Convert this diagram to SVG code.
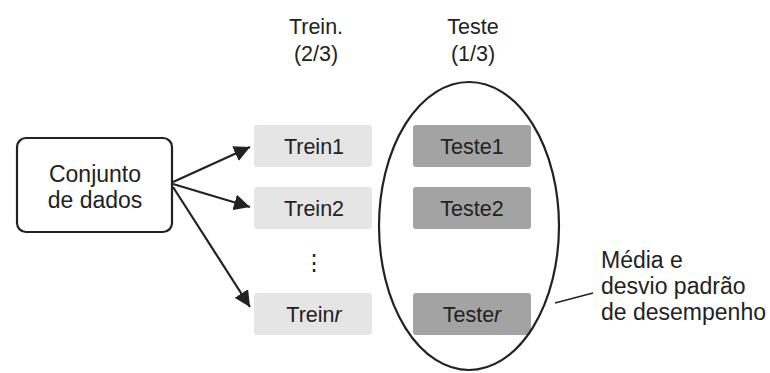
<svg xmlns="http://www.w3.org/2000/svg" width="770" height="373" viewBox="0 0 770 373">
<style>
text{font-family:"Liberation Sans",Arial,sans-serif;font-size:21.5px;fill:#222;}
.c{text-anchor:middle}
.big{font-size:23px}
.tr{fill:#e5e5e5}
.te{fill:#a3a3a3}
.ln{stroke:#222;stroke-width:2.2;fill:none}
</style>
<defs>
<marker id="ah" viewBox="0 0 10 10" refX="10" refY="5" markerWidth="16" markerHeight="16" markerUnits="userSpaceOnUse" orient="auto">
<path d="M0,0 L10,5 L0,10 Z" fill="#222"/>
</marker>
</defs>
<rect width="770" height="373" fill="#fff"/>
<g id="headers">
<text class="c" x="316" y="34">Trein.</text>
<text class="c" x="316" y="61">(2/3)</text>
<text class="c" x="473" y="34">Teste</text>
<text class="c" x="473" y="61">(1/3)</text>
</g>
<g id="dataset">
<rect x="17" y="138" width="155" height="94" rx="9" fill="#fff" stroke="#222" stroke-width="2.2"/>
<text class="c big" x="95" y="182">Conjunto</text>
<text class="c big" x="95" y="208">de dados</text>
</g>
<g id="trein1"><rect class="tr" x="254" y="125" width="118" height="42" rx="3"/><text class="c" x="314" y="154">Trein1</text></g>
<g id="trein2"><rect class="tr" x="254" y="187" width="118" height="42" rx="3"/><text class="c" x="314" y="216">Trein2</text></g>
<g id="dots"><text class="c" x="314" y="270">⋮</text></g>
<g id="treinr"><rect class="tr" x="254" y="293" width="118" height="42" rx="3"/><text class="c" x="314" y="322">Trein<tspan font-style="italic">r</tspan></text></g>
<g id="teste1"><rect class="te" x="413" y="125" width="118" height="42" rx="3"/><text class="c" x="472" y="154">Teste1</text></g>
<g id="teste2"><rect class="te" x="413" y="187" width="118" height="42" rx="3"/><text class="c" x="472" y="216">Teste2</text></g>
<g id="tester"><rect class="te" x="413" y="293" width="118" height="42" rx="3"/><text class="c" x="472" y="322">Teste<tspan font-style="italic">r</tspan></text></g>
<g id="ellipse"><ellipse class="ln" cx="469" cy="226" rx="90" ry="144"/></g>
<g id="label">
<text class="big" x="601" y="268">Média e</text>
<text class="big" x="601" y="294">desvio padrão</text>
<text class="big" x="601" y="320">de desempenho</text>
</g>
<g id="connectors">
<line class="ln" x1="173" y1="182" x2="250" y2="147" marker-end="url(#ah)"/>
<line class="ln" x1="173" y1="184" x2="250" y2="207" marker-end="url(#ah)"/>
<line class="ln" x1="173" y1="187" x2="250" y2="307" marker-end="url(#ah)"/>
<line x1="555" y1="303" x2="593" y2="293" stroke="#222" stroke-width="1.6"/>
</g>
</svg>
